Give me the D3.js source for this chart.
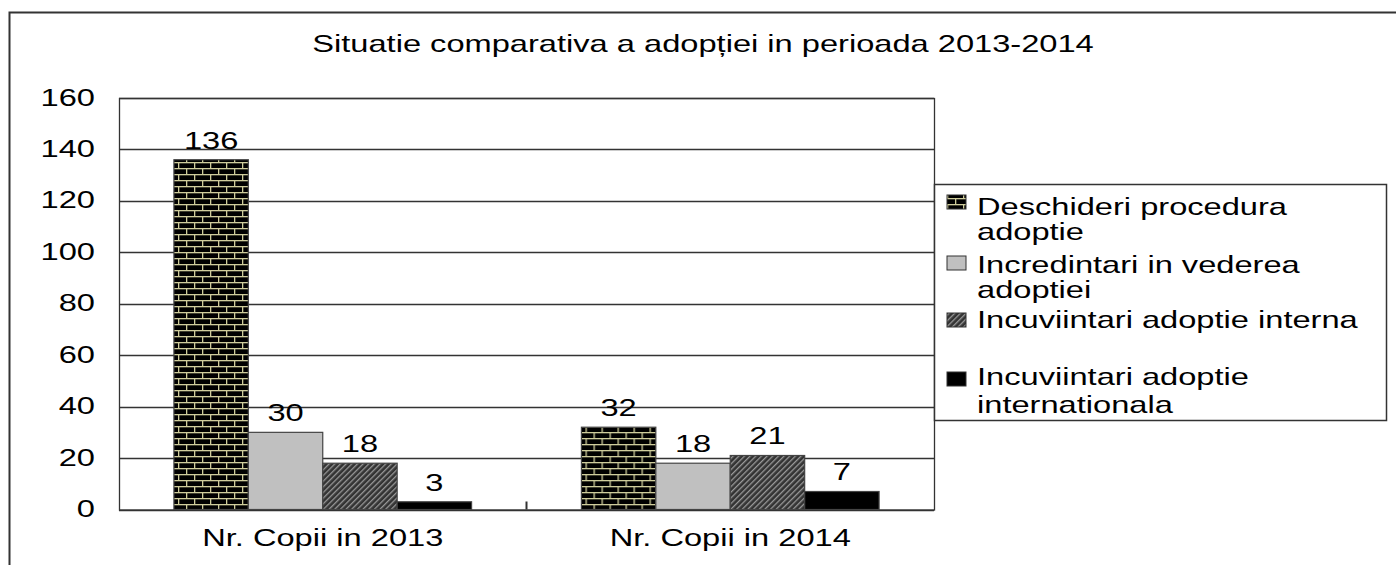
<!DOCTYPE html>
<meta charset="utf-8">
<title>Adoptie 2013-2014</title>
<script src="https://d3js.org/d3.v7.min.js"></script>
<style>
    body { margin: 0; background: #fff; }
    text { font-family: "Liberation Sans", Arial, sans-serif; fill: #000; font-size: 24px; }
</style>
<body>
<div id="chart"></div>
<script>
    // data
    var categories = ["Nr. Copii in 2013", "Nr. Copii in 2014"];
    var seriesNames = [
        ["Deschideri procedura", "adoptie"],
        ["Incredintari in vederea", "adoptiei"],
        ["Incuviintari adoptie interna"],
        ["Incuviintari adoptie", "internationala"]
    ];
    var values2013 = [136, 30, 18, 3];
    var values2014 = [32, 18, 21, 7];
    var yTicks = [0, 20, 40, 60, 80, 100, 120, 140, 160];

    var W = 1396, H = 565;
    var plot = {left: 119, top: 98, right: 934, bottom: 509.5};
    var SX = 1.36; // the source text is stretched wide

    var svg = d3.select("#chart").append("svg")
        .attr("width", W).attr("height", H);

    // place a text at x,y with the horizontal stretch
    function put(sel, x, y) {
        return sel.attr("transform", "translate(" + x + "," + y + ") scale(" + SX + ",1)");
    }

    // patterns
    var defs = svg.append("defs");
    var brick = defs.append("pattern").attr("id", "brick")
        .attr("patternUnits", "userSpaceOnUse")
        .attr("width", 16).attr("height", 12);
    var mortar = "#cfcd9c";
    brick.append("rect").attr("width", 16).attr("height", 12).attr("fill", "#000");
    brick.append("rect").attr("x", 0).attr("y", 0).attr("width", 16).attr("height", 1.3).attr("fill", mortar);
    brick.append("rect").attr("x", 0).attr("y", 6).attr("width", 16).attr("height", 1.3).attr("fill", mortar);
    brick.append("rect").attr("x", 3).attr("y", 0).attr("width", 1.3).attr("height", 6).attr("fill", mortar);
    brick.append("rect").attr("x", 11).attr("y", 6).attr("width", 1.3).attr("height", 6).attr("fill", mortar);

    var hatch = defs.append("pattern").attr("id", "hatch")
        .attr("patternUnits", "userSpaceOnUse")
        .attr("width", 4).attr("height", 4)
        .attr("patternTransform", "rotate(45)");
    hatch.append("rect").attr("width", 4).attr("height", 4).attr("fill", "#333");
    hatch.append("rect").attr("width", 1.3).attr("height", 4).attr("fill", "#999");

    var fills = ["url(#brick)", "#c0c0c0", "url(#hatch)", "#000"];

    // outer frame (only left and top visible)
    svg.append("path")
        .attr("d", "M9.5," + H + "V12.5H" + W)
        .attr("fill", "none").attr("stroke", "#333").attr("stroke-width", 2);

    // title
    put(svg.append("text"), 703, 52)
        .attr("text-anchor", "middle")
        .text("Situatie comparativa a adopției in perioada 2013-2014");

    var y = d3.scaleLinear().domain([0, 160]).range([plot.bottom, plot.top]);
    var x0 = d3.scaleBand().domain(categories).range([plot.left, plot.right]).paddingInner(0).paddingOuter(0);
    var x1 = d3.scaleBand().domain(d3.range(4)).range([0, x0.bandwidth()]).paddingInner(0).paddingOuter(0.738);

    // gridlines
    svg.append("g").selectAll("line").data(yTicks).enter().append("line")
        .attr("x1", plot.left).attr("x2", plot.right)
        .attr("y1", function(d) { return Math.round(y(d)) + 0.5; })
        .attr("y2", function(d) { return Math.round(y(d)) + 0.5; })
        .attr("stroke", "#333").attr("stroke-width", 1.3);

    // plot frame
    svg.append("rect")
        .attr("x", plot.left + 0.5).attr("y", plot.top + 0.5)
        .attr("width", plot.right - plot.left).attr("height", plot.bottom - plot.top)
        .attr("fill", "none").attr("stroke", "#333").attr("stroke-width", 1.3);

    // y labels
    svg.append("g").selectAll("text").data(yTicks).enter().append("text")
        .attr("text-anchor", "end")
        .each(function(d) { put(d3.select(this), 95, y(d) + 7.5); })
        .text(function(d) { return d; });

    // category separator tick
    svg.append("line")
        .attr("x1", x0(categories[1])).attr("x2", x0(categories[1]))
        .attr("y1", plot.bottom - 8).attr("y2", plot.bottom)
        .attr("stroke", "#333").attr("stroke-width", 2);

    // x labels
    svg.append("g").selectAll("text").data(categories).enter().append("text")
        .attr("text-anchor", "middle")
        .each(function(d) { put(d3.select(this), x0(d) + x0.bandwidth() / 2, 546); })
        .text(function(d) { return d; });

    var table = [values2013, values2014];
    var groups = svg.append("g").selectAll("g").data(table).enter().append("g")
        .attr("transform", function(d, i) { return "translate(" + x0(categories[i]) + ",0)"; });

    groups.selectAll("rect").data(function(d) { return d; }).enter().append("rect")
        .attr("x", function(d, i) { return x1(i); })
        .attr("y", function(d) { return y(d); })
        .attr("width", x1.bandwidth())
        .attr("height", function(d) { return y(0) - y(d); })
        .attr("fill", function(d, i) { return fills[i]; })
        .attr("stroke", "#444").attr("stroke-width", 1.2);

    groups.selectAll("text.val").data(function(d) { return d; }).enter().append("text")
        .attr("class", "val")
        .attr("text-anchor", "middle")
        .each(function(d, i) { put(d3.select(this), x1(i) + x1.bandwidth() / 2, y(d) - 11); })
        .text(function(d) { return d; });

    // legend
    var legend = svg.append("g");
    legend.append("rect")
        .attr("x", 934.5).attr("y", 184.5).attr("width", 452).attr("height", 236)
        .attr("fill", "#fff").attr("stroke", "#333").attr("stroke-width", 1.5);

    var rowTop = [195, 256, 313, 372];
    var rowBase = [[215, 240], [273, 298], [328], [385, 413]];
    seriesNames.forEach(function(lines, i) {
        legend.append("rect")
            .attr("x", 947).attr("y", rowTop[i]).attr("width", 19).attr("height", 14)
            .attr("fill", fills[i]).attr("stroke", "#333").attr("stroke-width", 1);
        lines.forEach(function(t, j) {
            put(legend.append("text"), 977, rowBase[i][j]).text(t);
        });
    });
</script>
</body>
